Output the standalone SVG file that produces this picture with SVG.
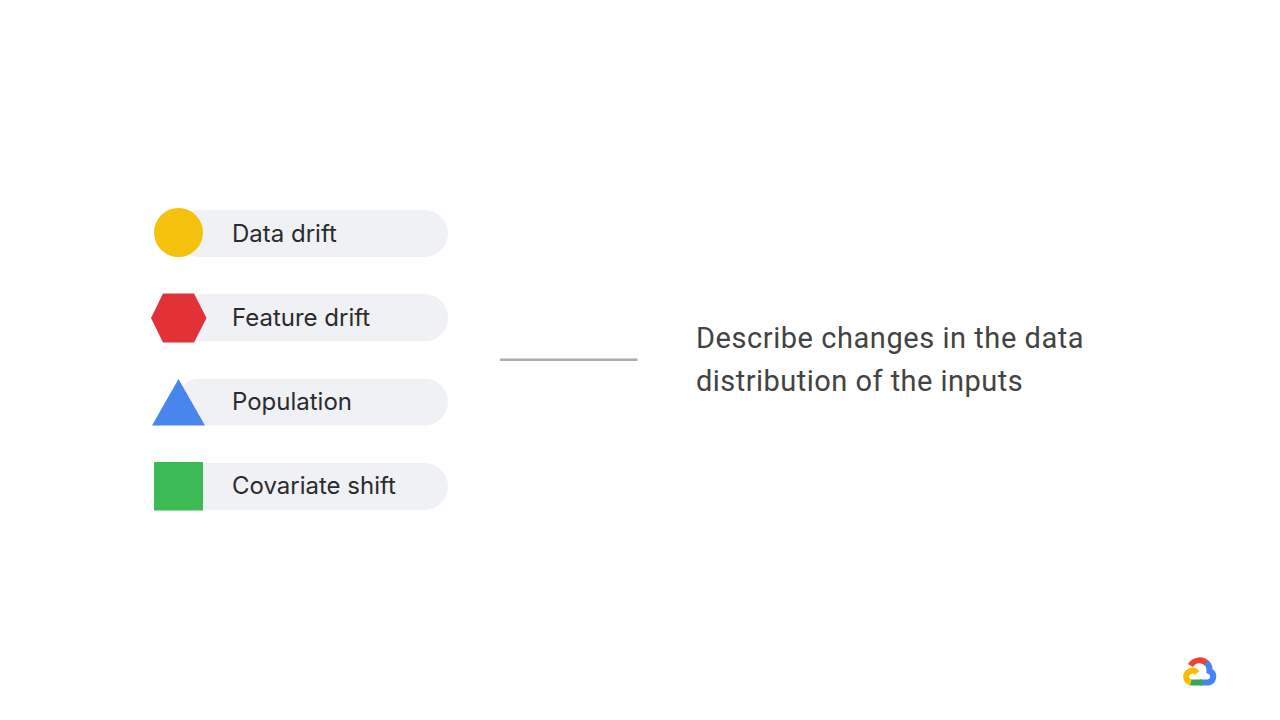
<svg xmlns="http://www.w3.org/2000/svg" width="1280" height="720" viewBox="0 0 1280 720">
<style>
.pill{fill:#f0f1f5}
.lbl{font-family:"Inter","Open Sans","Liberation Sans",sans-serif;font-size:24px;fill:#2a2b2e;letter-spacing:0}
.desc{font-family:Roboto,"Liberation Sans",sans-serif;font-size:29px;fill:#434343;letter-spacing:0.55px}
</style>
<rect width="1280" height="720" fill="#ffffff"/>
<g id="connectors"><line x1="500" y1="359.700" x2="637.500" y2="359.700" stroke="#a8abb2" stroke-width="2.500"/></g>
<g id="node-data-drift"><rect class="pill" x="176" y="210" width="272" height="47" rx="23.500"/><circle cx="178.500" cy="232.500" r="24.500" fill="#f4c20d"/><text class="lbl" x="232" y="242">Data drift</text></g>
<g id="node-feature-drift"><rect class="pill" x="176" y="294" width="272" height="47.500" rx="23.500"/><polygon points="151,318 163,293.500 194,293.500 206.500,318 194,342.500 163,342.500" fill="#e03237"/><text class="lbl" x="232" y="326">Feature drift</text></g>
<g id="node-population"><rect class="pill" x="176" y="378.500" width="272" height="47" rx="23.500"/><polygon points="178.500,379 205,425.500 152,425.500" fill="#4885ed"/><text class="lbl" x="232" y="410">Population</text></g>
<g id="node-covariate-shift"><rect class="pill" x="176" y="463" width="272" height="47" rx="23.500"/><rect x="154" y="462" width="49" height="48.500" fill="#3cba54"/><text class="lbl" x="232" y="494">Covariate shift</text></g>
<g id="description"><text class="desc" x="696" y="348">Describe changes in the data</text><text class="desc" x="696" y="391" style="letter-spacing:0.47px">distribution of the inputs</text></g>
<g id="logo" fill="none" stroke-width="6">
<path d="M1190.500 665.500 A10.500 10.500 0 0 1 1207.500 664" stroke="#ea4335"/>
<path d="M1206.500 662.500 A10.500 10.500 0 0 1 1209.500 671 A6 6 0 0 1 1208 682.500 L1200 682.500" stroke="#4285f4"/>
<path d="M1190 682.500 L1202 682.500" stroke="#34a853"/>
<path d="M1191 682.500 A6 6 0 1 1 1197 673" stroke="#fbbc05"/>
</g>
</svg>
